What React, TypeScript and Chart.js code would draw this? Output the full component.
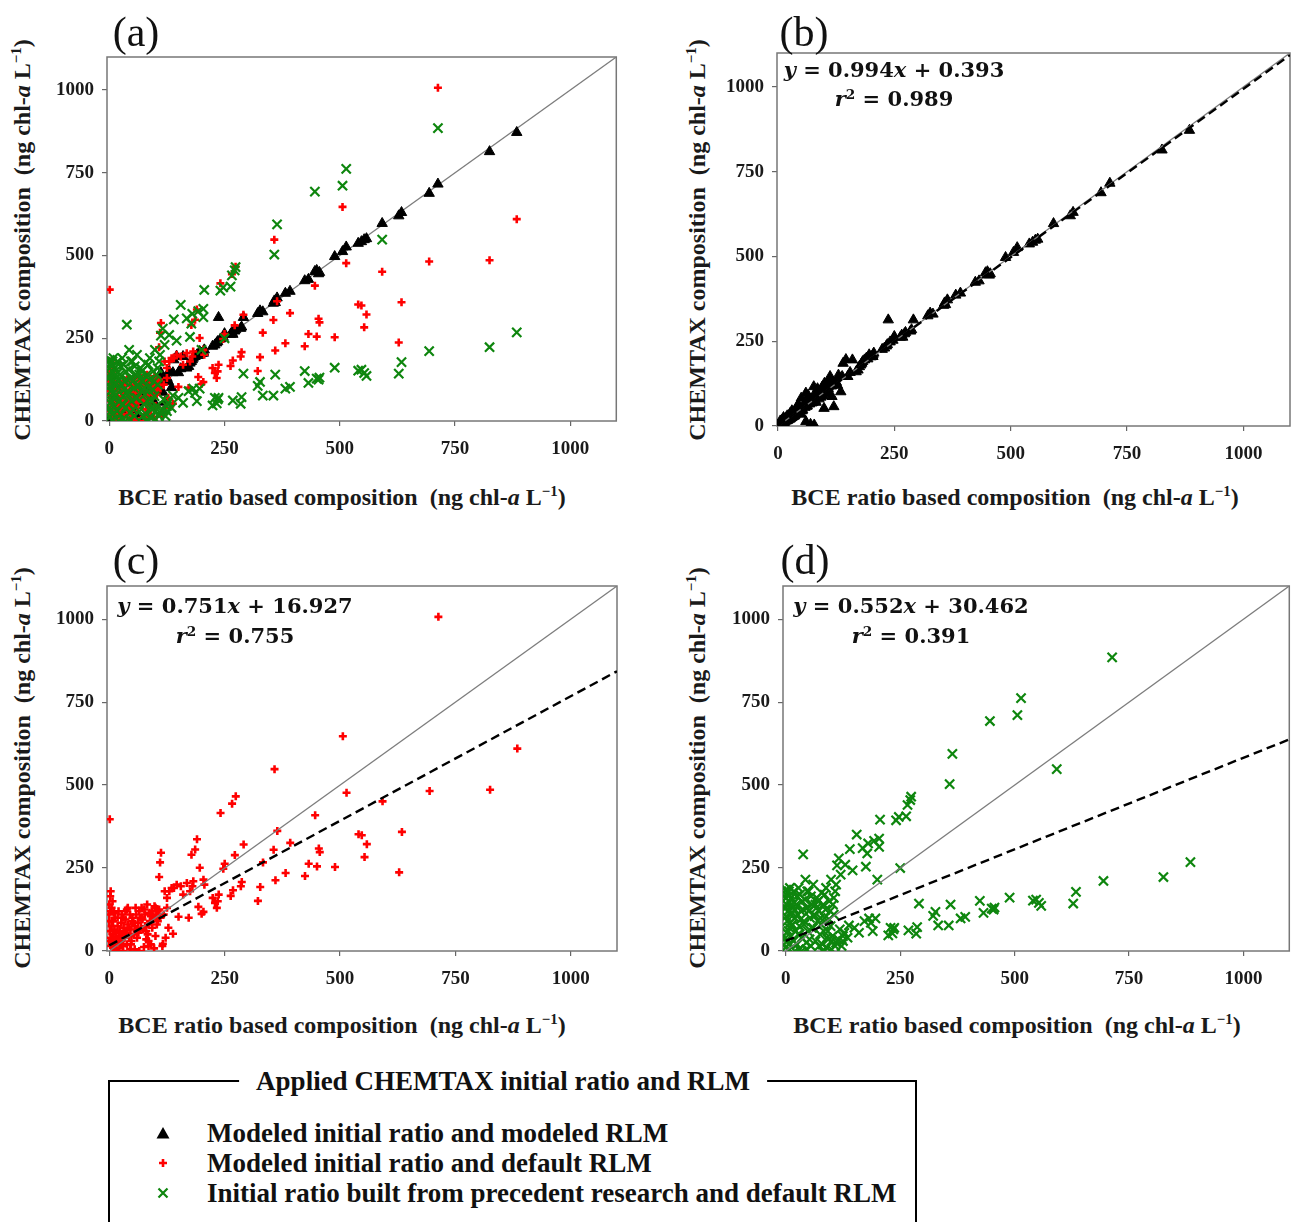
import React, { useEffect, useRef } from "react";
import { Chart, registerables } from "chart.js";

Chart.register(...registerables);

// ---- data ----
// BCE ratio based composition (x), shared by all three CHEMTAX runs
const bce = [
  884, 825, 713, 694, 634, 628, 592, 558, 553, 547,
  540, 514, 506, 489, 456, 454, 450, 446, 432, 424,
  392, 382, 364, 358, 356, 360, 333, 327, 322, 291,
  287, 285, 274, 272, 266, 268, 263, 250, 247, 241,
  237, 235, 233, 229, 224, 206, 204, 204, 200, 196,
  193, 190, 186, 182, 180, 178, 175, 172, 168, 160,
  155, 150, 146, 140, 138, 135, 130, 125, 120, 116,
  112, 110, 108, 105, 102, 100, 99, 97, 95, 92,
  90, 88, 85, 82, 80, 78, 77, 75, 72, 70,
  68, 65, 62, 60, 60, 58, 55, 53, 50, 48,
  46, 45, 43, 40, 38, 36, 35, 33, 31, 30,
  28, 26, 25, 23, 22, 20, 18, 17, 15, 14,
  12, 11, 10, 9, 8, 7, 6, 5, 4, 3,
  2, 2, 1, 1, 0, 0, 0, 0, 5, 12,
  20, 30, 40, 50, 65, 85, 95, 105, 110, 70,
  115, 122, 128, 100, 90, 80, 45, 20, 8, 35,
  3, 6, 10, 15, 18, 24, 27, 32, 38, 42,
  47, 52, 57, 63, 67, 73, 76, 83, 87, 93,
  98, 103, 108, 118, 125, 7, 13, 29, 55, 85,
];
// Modeled initial ratio and modeled RLM (black triangles)
const modeledRlm = [
  872, 814, 716, 688, 630, 620, 597, 551, 548, 542,
  537, 526, 512, 497, 449, 445, 455, 452, 428, 424,
  392, 386, 372, 363, 356, 358, 330, 333, 325, 313,
  284, 280, 276, 272, 268, 262, 262, 264, 253, 248,
  313, 240, 236, 230, 226, 215, 210, 205, 204, 210,
  198, 200, 195, 190, 185, 180, 175, 165, 160, 195,
  158, 146, 196, 185, 146, 101, 150, 130, 57, 87,
  146, 120, 110, 100, 108, 126, 52, 90, 100, 85,
  95, 80, 92, 70, 85, 3, 116, 70, 80, 5,
  65, 72, 58, 97, 13, 55, 60, 48, 82, 45,
  50, 40, 62, 38, 42, 30, 36, 28, 34, 25,
  32, 37, 20, 26, 18, 22, 15, 20, 12, 18,
  10, 14, 8, 18, 6, 10, 4, 8, 3, 5,
  2, 4, 1, 3, 0, 2, 1, 0, 15, 25,
  30, 45, 55, 35, 90, 110, 115, 95, 130, 75,
  118, 125, 120, 98, 92, 76, 52, 16, 12, 32,
  6, 9, 14, 20, 25, 30, 22, 40, 35, 48,
  55, 45, 66, 60, 75, 68, 88, 95, 100, 105,
  110, 112, 115, 122, 128, 12, 10, 33, 58, 85,
];
// Modeled initial ratio and default RLM (red plus)
const defaultRlm = [
  610, 486, 1007, 482, 359, 237, 451, 322, 283, 349,
  352, 477, 647, 253, 298, 309, 255, 409, 263, 226,
  326, 235, 362, 548, 305, 213, 267, 193, 151, 321,
  208, 195, 466, 289, 444, 183, 166, 263, 248, 416,
  170, 150, 130, 145, 160, 200, 215, 118, 112, 251,
  133, 337, 306, 210, 195, 290, 180, 100, 205, 170,
  195, 103, 200, 190, 52, 190, 180, 160, 180, 22,
  296, 267, 223, 120, 110, 130, 100, 8, 95, 120,
  105, 90, 80, 140, 60, 75, 110, 12, 95, 130,
  70, 0, 85, 60, 40, 110, 75, 50, 90, 30,
  65, 110, 45, 80, 20, 55, 95, 40, 70, 15,
  50, 85, 30, 60, 10, 45, 75, 25, 55, 5,
  35, 65, 20, 40, 10, 50, 25, 130, 15, 180,
  120, 165, 397, 60, 90, 30, 140, 110, 75, 100,
  120, 100, 130, 100, 120, 30, 105, 90, 100, 100,
  15, 40, 70, 45, 20, 35, 5, 0, 90, 120,
  40, 90, 115, 30, 100, 40, 110, 60, 125, 70,
  20, 85, 130, 55, 100, 65, 125, 50, 115, 70,
  135, 80, 125, 110, 130, 150, 5, 0, 5, 15,
];
// Initial ratio built from precedent research and default RLM (green x)
const precedentRlm = [
  268, 223, 885, 211, 178, 143, 548, 136, 145, 155,
  152, 762, 711, 161, 131, 125, 128, 693, 115, 151,
  103, 98, 594, 503, 77, 140, 77, 118, 106, 143,
  72, 52, 465, 455, 440, 62, 406, 250, 404, 394,
  70, 65, 53, 70, 47, 396, 339, 314, 215, 98,
  332, 60, 85, 98, 324, 294, 254, 90, 310, 55,
  351, 70, 243, 307, 77, 40, 260, 45, 230, 279,
  258, 200, 180, 160, 45, 30, 215, 120, 150, 60,
  10, 190, 100, 140, 20, 175, 80, 50, 120, 90,
  160, 30, 110, 200, 70, 140, 15, 100, 180, 60,
  130, 5, 215, 90, 291, 150, 40, 120, 170, 75,
  190, 110, 20, 140, 60, 100, 180, 30, 130, 80,
  160, 45, 110, 190, 70, 150, 20, 120, 175, 90,
  55, 140, 185, 105, 160, 10, 130, 40, 165, 75,
  125, 50, 80, 120, 140, 170, 95, 110, 25, 150,
  35, 15, 55, 5, 40, 0, 25, 0, 5, 0,
  30, 60, 85, 115, 145, 165, 50, 95, 125, 155,
  180, 35, 70, 105, 130, 15, 100, 60, 125, 35,
  75, 140, 15, 65, 30, 180, 140, 5, 165, 0,
];

const tickValues = [0, 250, 500, 750, 1000];
const axisMax = 1100;
const fitSlopes = [0.994, 0.751, 0.552];
const fitIntercepts = [0.393, 16.927, 30.462];
const fitR2 = [0.989, 0.755, 0.391];
const panelNames = ["(a)", "(b)", "(c)", "(d)"];
const seriesLabels = [
  "Modeled initial ratio and modeled RLM",
  "Modeled initial ratio and default RLM",
  "Initial ratio built from precedent research and default RLM",
];
const legendTitle = "Applied CHEMTAX initial ratio and RLM";
const xTitleText = "BCE ratio based composition";
const yTitleText = "CHEMTAX composition";

// ---- styles ----
const SERIES = [
  { values: modeledRlm, pointStyle: "triangle", color: "#000000", radius: 6, borderWidth: 1 },
  { values: defaultRlm, pointStyle: "cross", color: "#ff0000", radius: 4, borderWidth: 2.6 },
  { values: precedentRlm, pointStyle: "crossRot", color: "#0e860e", radius: 6.5, borderWidth: 2.2 },
];

type Area = { L: number; T: number; R: number; B: number };
type PanelDef = {
  area: Area;
  xMin: number;
  series: number[];
  fit: number;
  label: { x: number; y: number };
  yTitle: { x: number; y: number };
  xTitle: { x: number; y: number };
  eq: { x: number; y1: number; y2: number } | null;
};

const PANELS: PanelDef[] = [
  { area: { L: 107, T: 57, R: 617, B: 421 }, xMin: -5, series: [2, 1, 0], fit: -1,
    label: { x: 136, y: 32 }, yTitle: { x: 22, y: 240 }, xTitle: { x: 342, y: 497 }, eq: null },
  { area: { L: 777, T: 53, R: 1290, B: 426 }, xMin: -2, series: [0], fit: 0,
    label: { x: 804, y: 32 }, yTitle: { x: 697, y: 240 }, xTitle: { x: 1015, y: 497 }, eq: { x: 894, y1: 69, y2: 98 } },
  { area: { L: 107, T: 586, R: 617, B: 951 }, xMin: -5, series: [1], fit: 1,
    label: { x: 136, y: 560 }, yTitle: { x: 22, y: 768 }, xTitle: { x: 342, y: 1025 }, eq: { x: 235, y1: 605, y2: 635 } },
  { area: { L: 783, T: 586, R: 1290, B: 951 }, xMin: -6, series: [2], fit: 2,
    label: { x: 805, y: 560 }, yTitle: { x: 697, y: 768 }, xTitle: { x: 1017, y: 1025 }, eq: { x: 911, y1: 605, y2: 635 } },
];

const Y_W = 67;
const X_H = 45;
const PAD_T = 10;
const PAD_R = 8;
const SERIF = '"Liberation Serif", "Times New Roman", serif';

const framePlugin = {
  id: "frame",
  beforeDatasetsDraw(chart: any) {
    const { ctx, chartArea } = chart;
    const { left, top, right, bottom } = chartArea;
    ctx.save();
    ctx.strokeStyle = "#777777";
    ctx.lineWidth = 1.5;
    ctx.strokeRect(left, top, right - left, bottom - top);
    ctx.restore();
  },
};

function PanelChart({ p }: { p: PanelDef }) {
  const ref = useRef<HTMLCanvasElement>(null);
  const left = p.area.L - Y_W;
  const top = p.area.T - PAD_T;
  const width = p.area.R - p.area.L + Y_W + PAD_R;
  const height = p.area.B - p.area.T + PAD_T + X_H;

  useEffect(() => {
    if (!ref.current) return;
    const datasets: any[] = [];
    let ord = 0;
    const diag = {
      data: [{ x: 0, y: 0 }, { x: axisMax, y: axisMax }],
      showLine: true,
      borderColor: "#7d7d7d",
      borderWidth: 1.3,
      pointRadius: 0,
      fill: false,
    };
    if (p.fit >= 0) {
      const m = fitSlopes[p.fit];
      const b = fitIntercepts[p.fit];
      datasets.push({
        data: [{ x: 0, y: b }, { x: axisMax, y: m * axisMax + b }],
        showLine: true,
        borderColor: "#000000",
        borderWidth: 2.4,
        borderDash: [9, 5],
        pointRadius: 0,
        fill: false,
        order: ord++,
      });
      datasets.push({ ...diag, order: ord++ });
    }
    p.series.forEach((i) => {
      const s = SERIES[i];
      datasets.push({
        data: bce.map((x, k) => ({ x, y: s.values[k] })),
        pointStyle: s.pointStyle,
        pointRadius: s.radius,
        pointBackgroundColor: s.color,
        pointBorderColor: s.color,
        pointBorderWidth: s.borderWidth,
        order: ord++,
      });
    });
    if (p.fit < 0) datasets.push({ ...diag, order: ord++ });

    const tickFont = { family: SERIF, size: 19, weight: "bold" as const };
    const grid = { drawOnChartArea: false, drawTicks: true, tickLength: 5, color: "#666666", lineWidth: 1.2 };
    const fmt = (v: any) => String(v);
    const chart = new Chart(ref.current, {
      type: "scatter",
      data: { datasets },
      options: {
        responsive: false,
        animation: false,
        events: [],
        layout: { padding: { left: 0, top: PAD_T, right: PAD_R, bottom: 0 } },
        plugins: { legend: { display: false }, tooltip: { enabled: false } },
        scales: {
          x: {
            type: "linear",
            min: p.xMin,
            max: axisMax,
            afterBuildTicks: (s: any) => { s.ticks = tickValues.map((v) => ({ value: v })); },
            afterFit: (s: any) => {
              s.height = X_H;
              s.paddingLeft = 0; s.paddingRight = 0; s.paddingTop = 0; s.paddingBottom = 0;
            },
            ticks: { autoSkip: false, maxRotation: 0, padding: 12, color: "#1a1a1a", font: tickFont, callback: fmt },
            grid,
            border: { display: false },
          },
          y: {
            type: "linear",
            min: 0,
            max: axisMax,
            afterBuildTicks: (s: any) => { s.ticks = tickValues.map((v) => ({ value: v })); },
            afterFit: (s: any) => {
              s.width = Y_W;
              s.paddingLeft = 0; s.paddingRight = 0; s.paddingTop = 0; s.paddingBottom = 0;
            },
            ticks: { autoSkip: false, padding: 8, color: "#1a1a1a", font: tickFont, callback: fmt },
            grid,
            border: { display: false },
          },
        },
      } as any,
      plugins: [framePlugin],
    });
    return () => chart.destroy();
  }, []);

  return (
    <canvas
      ref={ref}
      width={width}
      height={height}
      style={{ position: "absolute", left, top, width, height }}
    />
  );
}

function At({ x, y, rot, style, children }: any) {
  return (
    <div
      style={{
        position: "absolute",
        left: x,
        top: y,
        transform: `translate(-50%, -50%)${rot ? " rotate(-90deg)" : ""}`,
        whiteSpace: "nowrap",
        lineHeight: 1,
        ...style,
      }}
    >
      {children}
    </div>
  );
}

const Unit = () => (
  <>
    {"\u2002(ng chl-"}
    <i>a</i>
    {" L"}
    <span style={{ fontSize: "0.62em", position: "relative", top: "-0.62em" }}>{"\u22121"}</span>
    {")"}
  </>
);

const titleStyle = { fontFamily: SERIF, fontWeight: "bold", fontSize: 24, color: "#1a1a1a" };
const eqStyle = { fontFamily: '"DejaVu Serif", serif', fontWeight: "bold", fontSize: 21, color: "#111" };

function LegendMarker({ i }: { i: number }) {
  if (i === 0)
    return (
      <svg width="16" height="16">
        <polygon points="8,2 14.5,13.5 1.5,13.5" fill="#000" />
      </svg>
    );
  if (i === 1)
    return (
      <svg width="16" height="16">
        <path d="M8 4 V12 M4 8 H12" stroke="#ff0000" strokeWidth="2.6" />
      </svg>
    );
  return (
    <svg width="16" height="16">
      <path d="M3.5 3.5 L12.5 12.5 M12.5 3.5 L3.5 12.5" stroke="#0e860e" strokeWidth="2.2" />
    </svg>
  );
}

export default function App() {
  const legendY = [1133, 1163, 1193];
  return (
    <div
      style={{
        position: "absolute",
        left: 0,
        top: 0,
        width: 1291,
        height: 1222,
        background: "#ffffff",
        overflow: "hidden",
      }}
    >
      {PANELS.map((p, idx) => (
        <React.Fragment key={idx}>
          <PanelChart p={p} />
          <At x={p.label.x} y={p.label.y} style={{ fontFamily: SERIF, fontSize: 42, color: "#111" }}>
            {panelNames[idx]}
          </At>
          <At x={p.yTitle.x} y={p.yTitle.y} rot style={titleStyle}>
            {yTitleText}
            <Unit />
          </At>
          <At x={p.xTitle.x} y={p.xTitle.y} style={titleStyle}>
            {xTitleText}
            <Unit />
          </At>
          {p.eq && p.fit >= 0 && (
            <>
              <At x={p.eq.x} y={p.eq.y1} style={eqStyle}>
                <i>y</i>{" = " + fitSlopes[p.fit].toFixed(3)}
                <i>x</i>{" + " + fitIntercepts[p.fit].toFixed(3)}
              </At>
              <At x={p.eq.x} y={p.eq.y2} style={eqStyle}>
                <i>r</i>
                <span style={{ fontSize: "0.65em", position: "relative", top: "-0.55em" }}>2</span>
                {" = " + fitR2[p.fit].toFixed(3)}
              </At>
            </>
          )}
        </React.Fragment>
      ))}

      {/* legend box */}
      <div
        style={{
          position: "absolute",
          left: 108,
          top: 1080,
          width: 809,
          height: 170,
          boxSizing: "border-box",
          borderTop: "2px solid #000",
          borderLeft: "2px solid #000",
          borderRight: "2px solid #000",
        }}
      />
      <At
        x={503}
        y={1081}
        style={{ fontFamily: SERIF, fontWeight: "bold", fontSize: 27, background: "#fff", padding: "2px 17px", color: "#111" }}
      >
        {legendTitle}
      </At>
      {seriesLabels.map((lab, i) => (
        <React.Fragment key={i}>
          <div style={{ position: "absolute", left: 155, top: legendY[i] - 8, width: 16, height: 16 }}>
            <LegendMarker i={i} />
          </div>
          <div
            style={{
              position: "absolute",
              left: 207,
              top: legendY[i],
              transform: "translateY(-50%)",
              fontFamily: SERIF,
              fontWeight: "bold",
              fontSize: 27,
              lineHeight: 1,
              whiteSpace: "nowrap",
              color: "#111",
            }}
          >
            {lab}
          </div>
        </React.Fragment>
      ))}
    </div>
  );
}
